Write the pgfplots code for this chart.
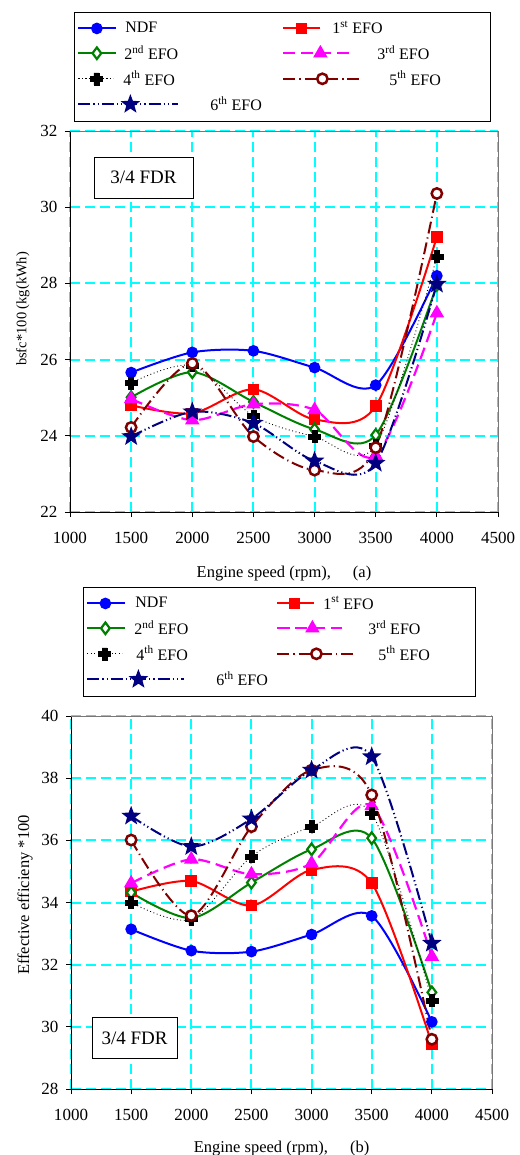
\documentclass[border=0pt]{standalone}
\usepackage{fontspec}
\setmainfont{Liberation Serif}
\usepackage{pgfplots}
\pgfplotsset{compat=1.18}
\usetikzlibrary{plotmarks}

\definecolor{ndf}{RGB}{0,0,255}
\definecolor{efo1}{RGB}{255,0,0}
\definecolor{efo2}{RGB}{0,128,0}
\definecolor{efo3}{RGB}{255,0,255}
\definecolor{efo5}{RGB}{128,0,0}
\definecolor{efo6}{RGB}{0,0,128}
\definecolor{gridc}{RGB}{0,255,255}
\definecolor{frameg}{RGB}{120,120,120}

\pgfdeclareplotmark{fatplus}{%
  \pgfpathmoveto{\pgfpoint{-0.4\pgfplotmarksize}{\pgfplotmarksize}}%
  \pgfpathlineto{\pgfpoint{0.4\pgfplotmarksize}{\pgfplotmarksize}}%
  \pgfpathlineto{\pgfpoint{0.4\pgfplotmarksize}{0.4\pgfplotmarksize}}%
  \pgfpathlineto{\pgfpoint{\pgfplotmarksize}{0.4\pgfplotmarksize}}%
  \pgfpathlineto{\pgfpoint{\pgfplotmarksize}{-0.4\pgfplotmarksize}}%
  \pgfpathlineto{\pgfpoint{0.4\pgfplotmarksize}{-0.4\pgfplotmarksize}}%
  \pgfpathlineto{\pgfpoint{0.4\pgfplotmarksize}{-\pgfplotmarksize}}%
  \pgfpathlineto{\pgfpoint{-0.4\pgfplotmarksize}{-\pgfplotmarksize}}%
  \pgfpathlineto{\pgfpoint{-0.4\pgfplotmarksize}{-0.4\pgfplotmarksize}}%
  \pgfpathlineto{\pgfpoint{-\pgfplotmarksize}{-0.4\pgfplotmarksize}}%
  \pgfpathlineto{\pgfpoint{-\pgfplotmarksize}{0.4\pgfplotmarksize}}%
  \pgfpathlineto{\pgfpoint{-0.4\pgfplotmarksize}{0.4\pgfplotmarksize}}%
  \pgfpathclose
  \pgfusepathqfillstroke}

\pgfdeclareplotmark{fstar}{%
  \pgfpathmoveto{\pgfpointpolar{90}{1.2\pgfplotmarksize}}%
  \pgfpathlineto{\pgfpointpolar{126}{0.5\pgfplotmarksize}}%
  \pgfpathlineto{\pgfpointpolar{162}{1.2\pgfplotmarksize}}%
  \pgfpathlineto{\pgfpointpolar{198}{0.5\pgfplotmarksize}}%
  \pgfpathlineto{\pgfpointpolar{234}{1.2\pgfplotmarksize}}%
  \pgfpathlineto{\pgfpointpolar{270}{0.5\pgfplotmarksize}}%
  \pgfpathlineto{\pgfpointpolar{306}{1.2\pgfplotmarksize}}%
  \pgfpathlineto{\pgfpointpolar{342}{0.5\pgfplotmarksize}}%
  \pgfpathlineto{\pgfpointpolar{18}{1.2\pgfplotmarksize}}%
  \pgfpathlineto{\pgfpointpolar{54}{0.5\pgfplotmarksize}}%
  \pgfpathclose
  \pgfusepathqfillstroke}

\pgfplotsset{
  limg/.style 2 args={legend image code/.code={%
      \path[draw=none,fill=none] (0pt,-5pt) rectangle (37pt,5pt);
      \draw[overlay,mark repeat=2,mark phase=2,##1] plot coordinates {(0pt,0pt) (#1pt,0pt) (#2pt,0pt)};}},
  s0/.style={color=ndf, line width=2pt, smooth, mark=*, mark size=4.8pt, mark options={solid}},
  s1/.style={color=efo1, line width=2pt, smooth, mark=square*, mark size=4.8pt, mark options={solid}},
  s2/.style={color=efo2, line width=2pt, smooth, mark=diamond*, mark size=5.8pt, mark options={solid, fill=white, line width=2.2pt}},
  s3/.style={color=efo3, line width=2.2pt, smooth, dash pattern=on 12pt off 6pt, mark=triangle*, mark size=6.2pt, mark options={solid}},
  s4/.style={color=black, line width=0.9pt, smooth, dash pattern=on 0.9pt off 2.6pt, mark=fatplus, mark size=6pt, mark options={solid, line width=0.5pt}},
  s5/.style={color=efo5, line width=2pt, smooth, dash pattern=on 12pt off 4pt on 1.2pt off 4pt, mark=*, mark size=5.2pt, mark options={solid, fill=white, line width=2.5pt}},
  s6/.style={color=efo6, line width=2pt, smooth, dash pattern=on 12pt off 3pt on 1.2pt off 3pt on 1.2pt off 3pt, mark=fstar, mark size=6.2pt, mark options={solid}},
  mystyle/.style={
    scale only axis,
    axis lines*=left, axis line style={-, black, line width=0.8pt},
    tick align=outside, major tick length=5pt, tick style={black, line width=0.8pt},
    grid=major, grid style={gridc, line width=2pt, dash pattern=on 10pt off 5pt},
    major grid style={gridc, line width=2pt, dash pattern=on 10pt off 5pt},
    /pgf/number format/assume math mode=true, /pgf/number format/1000 sep={},
    ticklabel style={font=\fontsize{17}{20}\selectfont},
    xticklabel style={yshift=-12pt},
    yticklabel style={xshift=-4pt},
    xtick={1000,1500,...,4500}, xmin=1000, xmax=4500,
    legend cell align=left, legend columns=2,
  },
}

\begin{document}
\begin{tikzpicture}
\useasboundingbox (0,0) rectangle (519pt,-1155pt);

% ---------------- (a) ----------------
\begin{axis}[mystyle, name=A, at={(70pt,-131pt)}, anchor=north west,
  width=428pt, height=381pt,
  ymin=22, ymax=32, ytick={22,24,...,32},
  xlabel={Engine speed (rpm),\hspace{22pt}(a)},
  ylabel={bsfc*100 (kg(kWh)},
  every axis x label/.style={at={(axis description cs:0.5,-0.162)},anchor=center,font=\fontsize{16.5}{19}\selectfont},
  every axis y label/.style={at={(axis description cs:-0.11,0.533)},rotate=90,anchor=center,font=\fontsize{14.5}{17}\selectfont},
  legend style={at={(axis description cs:0.0093,1.3123)}, anchor=north west, draw=black, line width=0.8pt,
    inner xsep=4pt, inner ysep=9pt, row sep=10pt, column sep=0pt, nodes={inner sep=0pt},
    font=\fontsize{16}{18}\selectfont},
]
\addplot[s0, limg={18.5}{37}] coordinates {(1500,25.66) (2000,26.19) (2500,26.23) (3000,25.79) (3500,25.33) (4000,28.20)};
\addlegendentry{\makebox[168pt][l]{\hspace{10pt}NDF}}
\addplot[s1, limg={18}{36}] coordinates {(1500,24.80) (2000,24.59) (2500,25.22) (3000,24.43) (3500,24.78) (4000,29.22)};
\addlegendentry{\makebox[166pt][l]{\hspace{12pt}1\textsuperscript{st} EFO}}
\addplot[s2, limg={18.5}{37}] coordinates {(1500,25.01) (2000,25.67) (2500,24.89) (3000,24.17) (3500,24.02) (4000,27.96)};
\addlegendentry{\makebox[168pt][l]{\hspace{9pt}2\textsuperscript{nd} EFO}}
\addplot[s3, limg={37}{67}] coordinates {(1500,24.97) (2000,24.41) (2500,24.83) (3000,24.68) (3500,23.48) (4000,27.22)};
\addlegendentry{\makebox[166pt][l]{\hspace{57pt}3\textsuperscript{rd} EFO}}
\addplot[s4, limg={18}{35}] coordinates {(1500,25.39) (2000,25.84) (2500,24.52) (3000,23.98) (3500,23.74) (4000,28.70)};
\addlegendentry{\makebox[168pt][l]{\hspace{8pt}4\textsuperscript{th} EFO}}
\addplot[s5, limg={39}{78}] coordinates {(1500,24.22) (2000,25.90) (2500,23.98) (3000,23.10) (3500,23.69) (4000,30.36)};
\addlegendentry{\makebox[166pt][l]{\hspace{69pt}5\textsuperscript{th} EFO}}
\addplot[s6, limg={52}{100}] coordinates {(1500,23.98) (2000,24.63) (2500,24.33) (3000,23.34) (3500,23.28) (4000,27.98)};
\addlegendentry{\makebox[168pt][l]{\hspace{95pt}6\textsuperscript{th} EFO}}
\node[draw=black, line width=0.8pt, fill=white, minimum width=99pt, minimum height=41pt, inner sep=0pt,
  font=\fontsize{19}{22}\selectfont] at (axis cs:1601,30.78) {3/4 FDR};
\end{axis}
\draw[frameg, line width=0.8pt] (A.north west) -- (A.north east) -- (A.south east);

% ---------------- (b) ----------------
\begin{axis}[mystyle, name=B, at={(71pt,-716pt)}, anchor=north west,
  width=421pt, height=373pt,
  ymin=28, ymax=40, ytick={28,30,...,40},
  xlabel={Engine speed (rpm),\hspace{22pt}(b)},
  ylabel={Effective efficieny *100},
  every axis x label/.style={at={(axis description cs:0.5,-0.16)},anchor=center,font=\fontsize{16.5}{19}\selectfont},
  every axis y label/.style={at={(axis description cs:-0.109,0.52)},rotate=90,anchor=center,font=\fontsize{16.5}{19}\selectfont},
  legend style={at={(axis description cs:0.0285,1.3458)}, anchor=north west, draw=black, line width=0.8pt,
    inner xsep=4pt, inner ysep=9pt, row sep=10pt, column sep=0pt, nodes={inner sep=0pt},
    font=\fontsize{16}{18}\selectfont},
]
\addplot[s0, limg={18}{37}] coordinates {(1500,33.14) (2000,32.45) (2500,32.42) (3000,32.97) (3500,33.57) (4000,30.16)};
\addlegendentry{\makebox[153pt][l]{\hspace{11pt}NDF}}
\addplot[s1, limg={17}{36}] coordinates {(1500,34.35) (2000,34.69) (2500,33.90) (3000,35.05) (3500,34.62) (4000,29.45)};
\addlegendentry{\makebox[157pt][l]{\hspace{9pt}1\textsuperscript{st} EFO}}
\addplot[s2, limg={18}{37}] coordinates {(1500,34.32) (2000,33.50) (2500,34.64) (3000,35.71) (3500,36.07) (4000,31.11)};
\addlegendentry{\makebox[153pt][l]{\hspace{10pt}2\textsuperscript{nd} EFO}}
\addplot[s3, limg={35}{65}] coordinates {(1500,34.62) (2000,35.39) (2500,34.91) (3000,35.26) (3500,37.11) (4000,32.26)};
\addlegendentry{\makebox[157pt][l]{\hspace{54pt}3\textsuperscript{rd} EFO}}
\addplot[s4, limg={17}{35}] coordinates {(1500,34.00) (2000,33.46) (2500,35.48) (3000,36.44) (3500,36.87) (4000,30.84)};
\addlegendentry{\makebox[153pt][l]{\hspace{12pt}4\textsuperscript{th} EFO}}
\addplot[s5, limg={39}{77}] coordinates {(1500,36.01) (2000,33.58) (2500,36.44) (3000,38.26) (3500,37.46) (4000,29.60)};
\addlegendentry{\makebox[157pt][l]{\hspace{64pt}5\textsuperscript{th} EFO}}
\addplot[s6, limg={51}{97}] coordinates {(1500,36.78) (2000,35.80) (2500,36.69) (3000,38.26) (3500,38.69) (4000,32.69)};
\addlegendentry{\makebox[153pt][l]{\hspace{92pt}6\textsuperscript{th} EFO}}
\node[draw=black, line width=0.8pt, fill=white, minimum width=85pt, minimum height=41pt, inner sep=0pt,
  font=\fontsize{19}{22}\selectfont] at (axis cs:1528,29.63) {3/4 FDR};
\end{axis}
\draw[frameg, line width=0.8pt] (B.north west) -- (B.north east) -- (B.south east);
\end{tikzpicture}
\end{document}
